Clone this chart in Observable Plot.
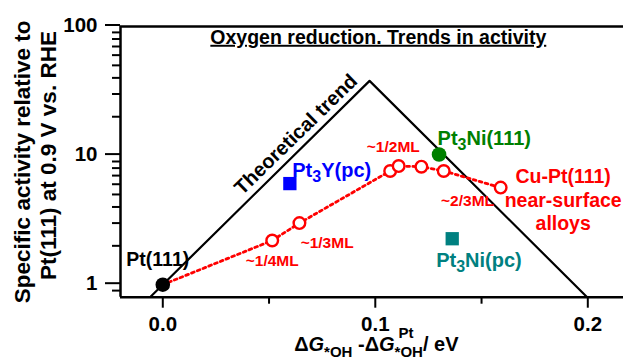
<!DOCTYPE html>
<html><head><meta charset="utf-8">
<script src="https://cdn.jsdelivr.net/npm/d3@7"></script>
<script src="https://cdn.jsdelivr.net/npm/@observablehq/plot@0.6"></script>
<style>
html,body{margin:0;padding:0;background:#fff;}
#chart svg{display:block;}
</style></head><body><div id="chart"></div>
<script>
// ---- texts ----
const title = "Oxygen reduction. Trends in activity";
const yLabelLine1 = "Specific activity relative to";
const yLabelLine2 = "Pt(111) at 0.9 V vs. RHE";
const xLabel = "ΔG*OH -ΔG*OHPt/ eV";
const trendLabel = "Theoretical trend";
const ptLabel = "Pt(111)";
const pt3yLabel = "Pt3Y(pc)";
const pt3ni111Label = "Pt3Ni(111)";
const pt3nipcLabel = "Pt3Ni(pc)";
const cuLabel = "Cu-Pt(111)\nnear-surface\nalloys";
const coverageLabels = ["~1/4ML", "~1/3ML", "~1/2ML", "~2/3ML"];

// ---- ticks ----
const xTicks = [0, 0.1, 0.2];
const xMinorTicks = [0.05, 0.15];
const yTicks = [1, 10, 100];
const yMinorTicks = [0.9, 2, 3, 4, 5, 6, 7, 8, 9, 20, 30, 40, 50, 60, 70, 80, 90];

// ---- series ----
const trendX = [-0.006, 0.0973, 0.1997];
const trendY = [0.8, 37.9, 0.8];
const ptX = [0];
const ptY = [1];
const cuX = [0.0515, 0.0643, 0.107, 0.111, 0.1217, 0.1322, 0.159];
const cuY = [2.2, 3.0, 7.6, 8.3, 8.2, 7.6, 5.65];
const pt3yX = [0.0598];
const pt3yY = [6.07];
const pt3ni111X = [0.130];
const pt3ni111Y = [10.2];
const pt3nipcX = [0.1362];
const pt3nipcY = [2.27];

const xDomain = [-0.0199, 0.2168];
const yDomain = [0.8, 100];

const rows = (xs, ys) => xs.map((x, i) => ({x, y: ys[i]}));
const trend = rows(trendX, trendY);
const pt = rows(ptX, ptY);
const cu = rows(cuX, cuY);
const cuSeries = rows([...ptX, ...cuX], [...ptY, ...cuY]);
const pt3y = rows(pt3yX, pt3yY);
const pt3ni111 = rows(pt3ni111X, pt3ni111Y);
const pt3nipc = rows(pt3nipcX, pt3nipcY);

const RED = "#ff0000";
const lbl = (data, text, o) => Plot.text(data, {x: "x", y: "y", text: () => text, lineAnchor: "bottom", ...o});

const chart = Plot.plot({
  width: 623, height: 359,
  marginLeft: 120, marginRight: 0, marginTop: 26, marginBottom: 62.3,
  x: {domain: xDomain},
  y: {type: "log", domain: yDomain},
  style: {fontFamily: "Arial, 'Liberation Sans', sans-serif", fontWeight: "bold", fontSize: "20px", color: "#000", background: "#fff", overflow: "visible"},
  marks: [
    Plot.line(trend, {x: "x", y: "y", stroke: "#000", strokeWidth: 2.2, clip: true}),
    Plot.line(cuSeries, {x: "x", y: "y", stroke: RED, strokeWidth: 2.8, strokeDasharray: "2.8,3.4"}),
    Plot.dot(cu, {x: "x", y: "y", r: 5.8, stroke: RED, strokeWidth: 2.4, fill: "#fff"}),
    Plot.dot(pt, {x: "x", y: "y", r: 7.3, fill: "#000"}),
    Plot.dot(pt3ni111, {x: "x", y: "y", r: 7.3, fill: "#008000"}),
    Plot.dot(pt3y, {x: "x", y: "y", r: 7.5, symbol: "square", fill: "#0000ff"}),
    Plot.dot(pt3nipc, {x: "x", y: "y", r: 7.5, symbol: "square", fill: "#008080"}),
    // frame lines
    Plot.ruleY([yDomain[1]], {stroke: "#000", strokeWidth: 2.5}),
    Plot.ruleY([yDomain[0]], {stroke: "#000", strokeWidth: 2.5}),
    Plot.ruleX([xDomain[0]], {stroke: "#000", strokeWidth: 2.5}),
    // axes
    Plot.axisY(yTicks, {tickSize: 15, tickPadding: 8, strokeWidth: 2, tickFormat: d => String(d), label: null, dy: -1.5, fontSize: 20.5}),
    Plot.axisY(yMinorTicks, {tickSize: 8, strokeWidth: 2, tickFormat: () => "", label: null}),
    Plot.axisX(xTicks, {tickSize: 11, tickPadding: 8, strokeWidth: 2, tickFormat: d3.format(".1f"), label: null, fontSize: 20.5}),
    Plot.axisX(xMinorTicks, {tickSize: 7, strokeWidth: 2, tickFormat: () => "", label: null}),
    // axis titles
    Plot.text([yLabelLine1], {text: d => d, frameAnchor: "left", rotate: -90, textAnchor: "middle", lineAnchor: "bottom", dx: -90.3, dy: 0, fontSize: 22.5}),
    Plot.text([yLabelLine2], {text: d => d, frameAnchor: "left", rotate: -90, textAnchor: "middle", lineAnchor: "bottom", dx: -64.3, dy: -6.3, fontSize: 22.5}),
    Plot.text([xLabel], {text: d => d, frameAnchor: "bottom", textAnchor: "middle", lineAnchor: "bottom", dx: 4.3, dy: 54, fontSize: 20}),
    Plot.text([title], {text: d => d, frameAnchor: "top", textAnchor: "middle", lineAnchor: "bottom", dx: 6.3, dy: 17.3, fontSize: 19.5}),
    // annotations
    lbl([trend[1]], trendLabel, {textAnchor: "middle", rotate: -44.2, dx: -69.2, dy: 58.2, fontSize: 20}),
    lbl(pt, ptLabel, {textAnchor: "middle", dx: -5, dy: -19, fontSize: 19.5}),
    lbl(pt3y, pt3yLabel, {textAnchor: "start", fill: "#0000ff", dx: 2.4, dy: -6.6, fontSize: 20}),
    lbl(pt3ni111, pt3ni111Label, {textAnchor: "start", fill: "#008000", dx: -1.5, dy: -9, fontSize: 20}),
    lbl(pt3nipc, pt3nipcLabel, {textAnchor: "middle", fill: "#008080", dx: 26.7, dy: 28.7, fontSize: 20}),
    lbl([cu[0]], coverageLabels[0], {textAnchor: "middle", fill: RED, dx: 0, dy: 26, fontSize: 15.5}),
    lbl([cu[1]], coverageLabels[1], {textAnchor: "middle", fill: RED, dx: 27.7, dy: 25, fontSize: 15.5}),
    lbl([cu[3]], coverageLabels[2], {textAnchor: "middle", fill: RED, dx: -5.4, dy: -14, fontSize: 15.5}),
    lbl([cu[5]], coverageLabels[3], {textAnchor: "middle", fill: RED, dx: 23.8, dy: 35.3, fontSize: 15.5}),
    lbl([cu[6]], cuLabel, {textAnchor: "middle", fill: RED, dx: 62.5, dy: 42.7, fontSize: 19.5, lineHeight: 1.22})
  ]
});
document.getElementById("chart").appendChild(chart);

// rich text: subscripts, superscripts, italics, underline
d3.select(chart).selectAll("text").each(function () {
  if (this.childElementCount) return;
  const t = this.textContent;
  const s = d3.select(this);
  const m = t.match(/^Pt3(.*)$/);
  if (m) {
    this.textContent = "";
    s.append("tspan").text("Pt");
    s.append("tspan").attr("dy", 5).attr("font-size", "0.8em").text("3");
    s.append("tspan").attr("dy", -5).text(m[1]);
  } else if (t === title) {
    s.style("text-decoration", "underline").style("text-decoration-thickness", "2.5px");
  } else if (t === xLabel) {
    this.textContent = "";
    s.append("tspan").text("Δ");
    s.append("tspan").attr("font-style", "italic").text("G");
    s.append("tspan").attr("font-size", 15).attr("dy", 6).text("*OH");
    s.append("tspan").attr("dy", -6).text(" -Δ");
    s.append("tspan").attr("font-style", "italic").text("G");
    const sub = s.append("tspan").attr("font-size", 15).attr("dy", 6).text("*OH");
    const w1 = sub.node().getComputedTextLength();
    const sup = s.append("tspan").attr("font-size", 15).attr("dy", -19).attr("dx", -w1 + 4).text("Pt");
    const w2 = sup.node().getComputedTextLength();
    s.append("tspan").attr("dy", 13).attr("dx", w1 - 4 - w2).text("/ eV");
  }
});
</script></body></html>
